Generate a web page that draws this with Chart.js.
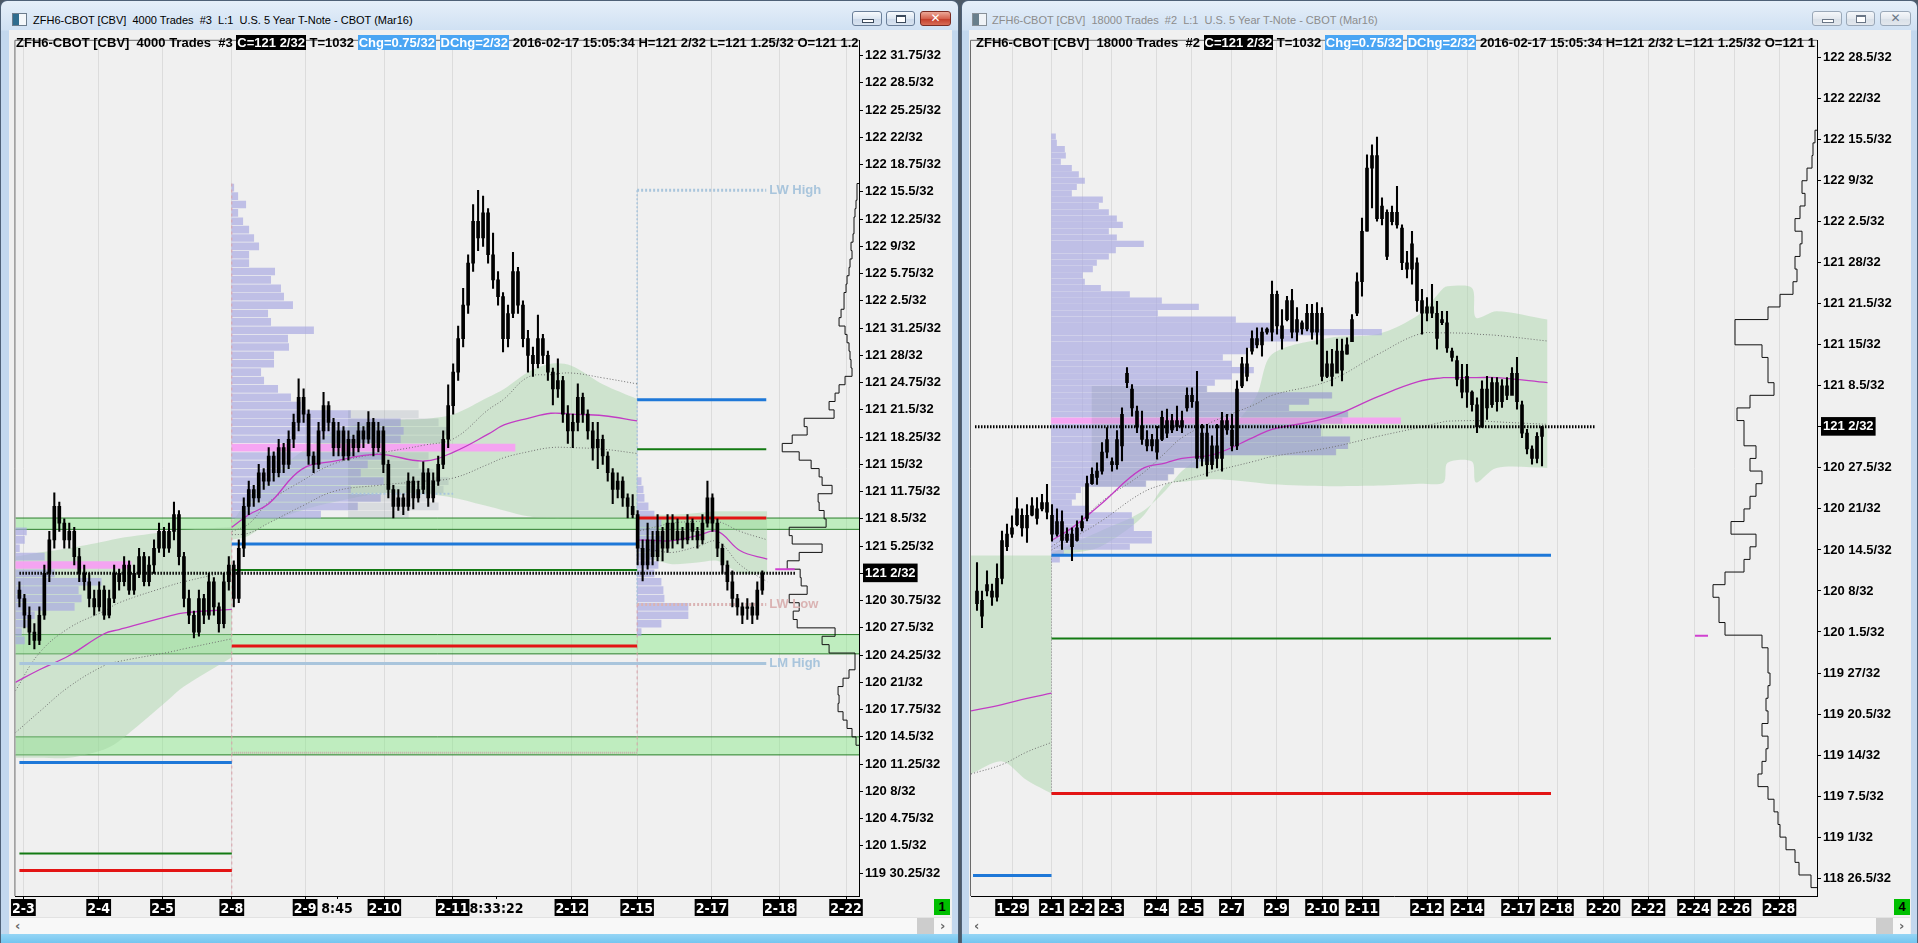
<!DOCTYPE html>
<html><head><meta charset="utf-8"><title>ZFH6-CBOT</title>
<script src="https://cdn.jsdelivr.net/npm/chart.js@4.4.1/dist/chart.umd.min.js"></script>
<style>
html,body{margin:0;padding:0}
body{width:1918px;height:943px;position:relative;overflow:hidden;background:#4d5966;font-family:"Liberation Sans",Arial,sans-serif}
.win{position:absolute;top:0;height:943px;box-sizing:border-box;border:1px solid #4f6177;border-bottom:none;border-radius:7px 7px 0 0;background:linear-gradient(#e6eff9 0,#d0e1f3 29px,#c3d8ee 30px,#c3d8ee 100%)}
#wl{left:0;width:959px}
#wr{left:961px;width:957px}
.bottom{position:absolute;left:0;right:0;bottom:0;height:9px;background:linear-gradient(#95d5f5,#74c5ef)}
.ttl{position:absolute;top:13px;font-size:11px;white-space:pre;line-height:14px}
.icon{position:absolute;top:13px;width:13px;height:11px;border:1px solid #6c7c8c;background:linear-gradient(90deg,#2f6c8e 0,#2f6c8e 45%,#f4f7fa 45%)}
.btn{position:absolute;top:11px;height:15px;border:1px solid #6a7f99;border-radius:3px;box-sizing:border-box;background:linear-gradient(#f7fafd,#dde7f2 50%,#cbd9ea 51%,#d8e3f0)}
.btn.close{background:linear-gradient(#eca897,#d6634f 50%,#c23b27 51%,#d86d57);border-color:#7b2c23}
.btn.in{border-color:#9aa8b8;background:linear-gradient(#f5f7fa,#e4e9ef 50%,#d9e0e8 51%,#e2e7ed)}
.mn{position:absolute;left:9px;top:7px;width:10px;height:2px;border:1px solid #3b4a5c;background:#fff}
.mx{position:absolute;left:9px;top:3px;width:8px;height:5px;border:1px solid #3b4a5c;border-top-width:2px;background:#fff}
.cx{position:absolute;left:0;right:0;top:-1px;text-align:center;font:bold 12px "DejaVu Sans",sans-serif;color:#fff}
.client{position:absolute;background:#f0f0f0}
.hdr{position:absolute;height:18px;overflow:hidden;white-space:pre;z-index:3}
.hdr .in{display:inline-block;font:bold 13px "Liberation Sans",Arial,sans-serif;line-height:16px;white-space:pre;color:#000}
.bk{background:#000;color:#fff;padding:0 1px}
.bl{background:#4aa5f3;color:#fff;padding:0 1px}
.sb{position:absolute;height:16px;background:#f8f8f8;border-top:1px solid #e2e2e2}
.arr{position:absolute;top:0;font:bold 13px "DejaVu Sans",sans-serif;color:#666;line-height:16px}
.thumb{position:absolute;top:0;height:16px;background:#cdcdcd}
.num{position:absolute;width:16px;height:16px;background:#00bf00;font:bold 13px "Liberation Sans",Arial;text-align:center;line-height:16px;color:#000}
canvas{position:absolute}
</style></head>
<body>
<div class="win" id="wl"><div class="bottom"></div></div>
<div class="win" id="wr"><div class="bottom"></div></div>

<div class="icon" style="left:12px"></div>
<div class="ttl" style="left:33px;color:#000">ZFH6-CBOT [CBV]  4000 Trades  #3  L:1  U.S. 5 Year T-Note - CBOT (Mar16)</div>
<div class="btn" style="left:852px;width:30px"><div class="mn"></div></div>
<div class="btn" style="left:886px;width:29px"><div class="mx"></div></div>
<div class="btn close" style="left:920px;width:31px"><div class="cx">✕</div></div>

<div class="icon" style="left:972px;filter:grayscale(0.6);opacity:0.8"></div>
<div class="ttl" style="left:992px;color:#8c8c8c">ZFH6-CBOT [CBV]  18000 Trades  #2  L:1  U.S. 5 Year T-Note - CBOT (Mar16)</div>
<div class="btn in" style="left:1812px;width:30px"><div class="mn" style="border-color:#6a7686"></div></div>
<div class="btn in" style="left:1846px;width:29px"><div class="mx" style="border-color:#6a7686"></div></div>
<div class="btn in" style="left:1880px;width:31px"><div class="cx" style="color:#6a7686">✕</div></div>

<div class="client" style="left:9px;top:30px;width:943px;height:904px"></div>
<div class="client" style="left:969px;top:30px;width:942px;height:904px"></div>

<canvas id="cl" width="942" height="885" style="left:10px;top:31px"></canvas>
<canvas id="cr" width="942" height="885" style="left:968px;top:31px"></canvas>

<div class="hdr" style="left:16px;top:33px;width:842px"><span class="in">ZFH6-CBOT [CBV]  4000 Trades  #3 <span class="bk">C=121 2/32</span> T=1032 <span class="bl">Chg=0.75/32</span> <span class="bl">DChg=2/32</span> 2016-02-17 15:05:34 H=121 2/32 L=121 1.25/32 O=121 1.25/32</span></div>
<div class="hdr" style="left:976px;top:33px;width:840px"><span class="in">ZFH6-CBOT [CBV]  18000 Trades  #2 <span class="bk">C=121 2/32</span> T=1032 <span class="bl">Chg=0.75/32</span> <span class="bl">DChg=2/32</span> 2016-02-17 15:05:34 H=121 2/32 L=121 1.25/32 O=121 1.25/32</span></div>

<div class="num" style="left:934px;top:899px">1</div>
<div class="num" style="left:1894px;top:899px">4</div>

<div class="sb" style="left:10px;top:917px;width:941px"><span class="arr" style="left:5px">‹</span><div class="thumb" style="left:907px;width:17px"></div><span class="arr" style="left:930px">›</span></div>
<div class="sb" style="left:969px;top:917px;width:941px"><span class="arr" style="left:5px">‹</span><div class="thumb" style="left:907px;width:17px"></div><span class="arr" style="left:930px">›</span></div>

<script>
// ---------- common ----------
const BASE32 = 3840;   // 120 0/32 -> every price below is in 32nds above 120
const CUR = 34;        // last trade 121 2/32

// ================= LEFT PANEL (4000 trades) =================
const L_OPEN = [32,31,29,27,26,29,34,38,42,40, 38,39,36,34,33,31,30,32,29,31, 34,33,35,32,34,36,33,35,37,39,
 37,39,41,36,31,29,27,31,29,33, 30,28,33,35,31,37,42,44,43,46, 45,48,46,49,47,50,52,55,53,48,
 47,51,54,52,49,51,48,50,49,51, 50,52,49,51,47,44,42,43,42,45, 43,44,46,43,45,47,50,54,58,62,
 66,71,76,74,77,72,69,67,62,65, 70,66,62,60,59,62,60,58,56,57, 53,51,52,55,53,51,49,50,48,46,
 44,45,43,42,41,37,35,38,36,39, 37,40,38,39,38,40,39,38,40,43, 40,37,35,33,31,30,30,30,29,32];
const L_HIGH = [33,31.5,30,28,30,35,39,43.6,42.5,40.5, 40,39.5,37,35,34,32,33,32.5,32,35, 34.5,36,35.5,35,37,36.5,36,38,40,39.5,
 40,42.5,41.5,36.5,32,29.5,32,31.5,34,33.5, 30.5,34,36,35.5,38,43,45,44.5,47,46.5, 49,48.5,50,49.5,51,53,57.2,56,53.5,48.5,
 52,55.6,54.5,52.5,52,51.5,51,50.5,52,51.5, 53.3,52.5,52,51.5,47.5,44.5,44,43.5,46,45.5, 45,47.3,46.5,46,48,51,56.5,59,63.5,68,
 72,78,79.7,79,77.5,74.6,70,67.5,66,72.3, 70.5,66.5,63,61,64.8,62.5,60.5,58.5,59.6,57.5, 54,53,56.6,55.5,53.5,52,52,50.5,48.5,46.5,
 46,45.5,43.5,43.4,41.5,38,40,39,41,39.5, 41,41,40.5,39.5,41,40.5,39.5,41,45,43.5, 40.5,37.5,35.5,34.3,31.5,30.5,31,30.5,33,34.3];
const L_LOW = [30,27.5,25.5,25,25.5,28.5,33,37,39,37, 37,35,33,32,30,29,29.5,28.5,28.7,30.5, 32,32.5,31.5,31.5,33.5,32.5,32.5,34,36.5,36,
 36.5,38,35,30,28,26.3,26.5,28,28.5,29, 27,27.5,32,30,30.5,36,41,42,42.5,44, 44.5,45,45.5,46,46.5,49,51,52,47,46,
 46.5,50,51,48,48,47.5,47.5,48,48.5,49, 49.5,48,48.5,46,43,40.6,41.5,41,41.5,41.7, 42.5,43.5,42,42.5,44.5,46.5,49,53,57,61,
 65,70,72.5,73,71,68,66,60.4,61,64.5, 65,61,58,57.5,58.5,59,57,54.1,55,52, 49.5,49,51,52,50,47.5,46.5,47,45,42.3,
 43,42,40.6,40.6,35,33.1,34.5,35,35.5,35.5, 36.5,37,37.5,37,37.5,38,37,37.5,39.5,39, 36,34,32,30,29,28,28.5,28,28.5,31.5];
const L_CLOSE = [31,29,27,26,29,34,38,42,40,38, 39,36,34,33,31,30,32,29,31,34, 33,35,32,34,36,33,35,37,39,37,
 39,41,36,31,29,27,31,29,33,30, 28,33,35,31,37,42,44,43,46,45, 48,46,49,47,50,52,55,53,48,47,
 51,54,52,49,51,48,50,49,51,50, 52,49,51,47,44,42,43,42,45,43, 44,46,43,45,47,50,54,58,62,66,
 71,76,74,77,72,69,67,62,65,70, 66,62,60,59,62,60,58,56,57,53, 51,52,55,53,51,49,50,48,46,44,
 45,43,42,41,37,35,38,36,39,37, 40,38,39,38,40,39,38,40,43,40, 37,35,33,31,30,29,30,29,32,34];

const L_DATE_POS = [0.8,15.9,28.7,42.6,57.3,63.7,73.2,86.9,95.7,110.7,123.9,138.8,152.5,165.8];
const L_DATE_LABELS = ['2-3','2-4','2-5','2-8','2-9','8:45','2-10','2-11','8:33:22','2-12','2-15','2-17','2-18','2-22'];
const L_Y_TICKS = [-1.75,1.5,4.75,8,11.25,14.5,17.75,21,24.25,27.5,30.75,34,37.25,40.5,43.75,47,50.25,53.5,56.75,60,
 63.25,66.5,69.75,73,76.25,79.5,82.75,86,89.25,92.5,95.75];

const L_SESSIONS = [42.6, 123.9];                 // 2-8 and 2-15 session starts
const L_BANDS = [[39.25,40.6],[24.4,26.7],[12.35,14.5]];
const L_BLUE  = [[0,42.6,11.45],[42.6,123.9,37.5],[123.9,149.8,54.7]];
const L_GREEN = [[0,42.6,0.6],[42.6,123.9,34.4],[123.9,149.8,48.8]];
const L_RED   = [[0,42.6,-1.45],[42.6,123.9,25.35],[123.9,149.8,40.6]];
const L_REF_NAMES  = ['LW High','LW Low','LM High'];
const L_REF_LEVELS = [79.7, 30.3, 23.25];
const L_REF_FROM   = [123.9, 123.9, 0];
const L_REF_TO = 149.8;
const L_PRIOR_HIGH = [66.6, 87, 43.5];
const L_LM_LOW = [42.6, 123.9, 12.6];
const L_CUR_SPAN = [0, 155.8];
const L_VPOC_MARK = [151.6, 155.5, 34.5];

// value-area envelopes: session 1, 2, 3
const L_E1_X  = [-0.8,4,10,17,20,30,33,42.6];
const L_E1_HI = [36,36.5,37,37.8,38.2,39,39.2,39.5];
const L_E1_LO = [12,12,12,13,14,19,20.5,24];
const L_E1_VW = [21,22.5,24.2,26.8,27.3,28.9,29.3,29.7];
const L_E1_UP = [20,24.5,27.5,29.5,30.5,32.5,33,34.3];
const L_E1_DN = [15,17.5,20.5,23,23.5,24.6,25,26.2];
const L_E2_X  = [42.6,46,50,56.6,63.2,72,81.2,87.2,94,97.2,102,106.6,110.6,117.2,123.9];
const L_E2_HI = [40,43,45.5,48.5,51,52.2,52.4,53,55,56,58,59,58.8,56.5,54.8];
const L_E2_LO = [38,38.5,40,41.5,42.5,43.5,43.5,43,42,41.5,40.8,40.6,40.6,40.6,40.6];
const L_E2_VW = [39.5,41,42.3,46.4,47.4,48.2,47.4,48.5,50.6,51.7,52.5,53.1,53,52.8,52.2];
const L_E2_UP = [39,39.9,42.5,45,47.1,48.3,49.3,50.1,53.5,54.8,57.4,57.7,57.9,57.3,56.6];
const L_E2_DN = [38.6,38.8,40,42,43.8,44.5,45,45.4,47,47.8,48.5,49,49,48.8,48.3];
const L_E3_X  = [123.9,128,131,136,140,144.6,150];
const L_E3_HI = [41,41,41,41.2,41.4,41.4,41.4];
const L_E3_LO = [36,35.5,35.1,35.3,35.5,34,34];
const L_E3_VW = [38,37.9,37.9,38.5,39,36.7,35.7];
const L_E3_UP = [39,39.6,40,40.2,40.2,39,38];
const L_E3_DN = [37,36.7,36.5,37.2,37.8,35,33];

// session volume profiles (volume per 1/32 row)
const L_PA_START = -0.8, L_PA_LOW = 26, L_PA_POC = 35;
const L_PA_VOL = [9,6,13,19,59,66,63,86,39,116,29,4,9,11];
const L_PB_START = 42.6, L_PB_LOW = 41, L_PB_POC = 49;
const L_PB_VOL = [89,126,149,119,152,129,136,152,284,169,172,169,119,69,59,46,32,29,42,42,57,56,82,39,36,61,52,49,39,43,17,17,27,22,17,11,6,14,6,2];
const L_PG_START = 66, L_PG_LOW = 41;          // developing (grey) profile overlay
const L_PG_VOL = [60,90,80,95,100,85,70,80,0,95,100,90,70];
const L_PC_START = 123.9, L_PC_LOW = 27, L_PC_POC = null;
const L_PC_VOL = [4,24,51,51,27,26,24,17,21,17,19,24,21,24,17,11,7,6,4];
// whole-window profile (right edge), 1/32 rows from 120 14/32 upward
const L_FAR_LOW = 14;
const L_FAR_VOL = [3,7,12,16,21,20,21,16,10,4,4,30,37,24,62,66,60,70,52,58,59,72,60,37,67,70,33,35,40,41,27,37,40,48,60,77,67,52,55,25,30,24,20,14,7,8,9,10,12,14,20,18,15,15,13,12,10,9,7,8,6,5,5,4,3,2,2];

// ================= RIGHT PANEL (18000 trades) =================
const R_OPEN = [6,4,8,8,7,10,15,17,18.5,20, 18,20,21,21,22,20,17,19,16,17, 16,18,19.5,25,26,27,30,28.5,28,31,
 41,40,36.5,34,32,31,32,32,35,33.5, 35,34,37,39,38,29,33,28,31,29, 35,33.5,31,40.5,44,46,48,47,49,49,
 55,50,51,54,49,50.5,49.5,52,49,52, 42,44,42.5,46,45.5,47.5,52,57,65,75, 77,67,68,66.5,68,65.5,60,59,60,54,
 52,53,52,51,50.5,46,44.5,41.5,39.5,39.5, 37.5,34,40,37.5,41,38,40.5,39,42.5,37.5, 33,30.5,29,32.5];
const R_HIGH = [12.5,8,11.2,9.1,12.3,17.5,18.6,19.9,22.8,21, 21.7,22.8,22.8,23.3,24.9,21.7,21,20.7,18,18, 19.1,19.9,26.2,27.5,28.3,31.5,33.9,29.1,33.4,37,
 43.4,40.7,37.3,36.5,33.4,32.8,34.1,36.5,36.8,36, 37.3,36.5,40.2,40.2,42.8,34.4,34.4,32.6,34.4,36.3, 36,36,41.3,45,46.5,49.2,49.7,49.7,49.7,57.1,
 55.5,52.6,54.7,55.8,52.9,50.8,53.4,53.4,53.7,52.9, 46,46.3,47.9,47.9,48.1,51.8,58.4,67.1,77.1,78.7, 79.9,70.3,68.4,69,72.1,66,61.8,65,60.8,55.8,
 54.5,56.6,53.9,52.3,52.3,46.5,45.2,43.9,43.9,39.7, 38.6,41.3,42,41.8,41.8,41.5,41.8,43.4,45,38.1, 33.6,31,33.1,34.1];
const R_LOW = [4.9,2.2,7.2,5.7,6.4,9.1,14.4,16.5,18.3,16.7, 15.7,19.9,18.6,20.7,19.4,15.9,16.7,14.6,15.7,12.8, 15.9,17.5,19.1,24.9,24.9,26.5,29.1,27,27.3,28.6,
 40.2,35.7,33.1,31.2,30.2,30.2,28.9,31.8,32.3,33.1, 33.4,33.1,36.5,37.1,27.5,27.8,26.2,27.3,27.5,27, 32.8,30.2,30.4,40.2,41.3,45.5,46.5,45.2,48.7,47.6,
 48.7,46.3,50.8,48.1,47.6,48.7,49.2,47.9,47.1,41.3, 41.8,40.5,42.8,41.3,45.5,47.6,51.6,54.7,65,68.7, 66.6,66,60.5,66,65.5,58.9,57.6,56.6,52.3,48.7,
 50.8,51.3,46.3,50.2,45.8,44.4,40.5,38.6,37.1,36.5, 33.1,33.9,35.2,37.1,36.5,37.1,38.3,39.2,36.8,32.3, 29.7,28.1,28.3,27.8];
const R_CLOSE = [8,6.5,9,7,10,16,17,18,21,18, 20,21.5,19.5,22,20.5,17,19,16,17,15, 18,19,25,26.5,27,30,32,28,32,36,
 42.5,37,34,32,31,32,30,35.5,33,35, 34,35,39,38,29,33,28,31,29,35, 33.5,31,40,44,42,48,47,49,49.5,55,
 50,48,54,49,51,49.5,52,49,52,42, 44,42,46,43,47,51,57,65,75,77, 67,69,61,68,66,60,59,63,54,52,
 53,52,48,50.5,46.5,45,41.5,39.5,42,37.5, 34,40,37,41,38,40.5,39,42.5,38,33, 30.5,29,32.5,34];

const R_DATE_POS = [7.0,14.9,21,26.9,35.9,42.8,50.9,59.9,69,77.1,90,98.1,108.2,116,125.3,134.3,143.4,151.5,160.5];
const R_DATE_LABELS = ['1-29','2-1','2-2','2-3','2-4','2-5','2-7','2-9','2-10','2-11','2-12','2-14','2-17','2-18','2-20','2-22','2-24','2-26','2-28'];
const R_Y_TICKS = [-37.5,-31,-24.5,-18,-11.5,-5,1.5,8,14.5,21,27.5,34,40.5,47,53.5,60,66.5,73,79.5,86,92.5];

const R_BLUE  = [[-0.8,14.9,-37.1],[14.9,114.8,13.65]];
const R_GREEN = [[14.9,114.8,0.47]];
const R_RED   = [[14.9,114.8,-24.1]];
const R_CUR_SPAN = [-0.4, 123.6];
const R_SESSION = [14.9, 13.6, -24.1];
const R_VPOC_MARK = [143.6, 146.2, 0.9];

const R_E0_X  = [-1.2,5,10,14.9];
const R_E0_HI = [13.6,13.6,13.6,13.6];
const R_E0_LO = [-21,-19,-22,-24.1];
const R_E0_VW = [-11,-10,-9,-8.2];
const R_E0_DN = [-21,-19.5,-17.5,-16];
const R_E1_X  = [14.9,19,24.7,32.9,37.8,41,47.6,55.7,59,70.4,80.2,88.4,93.3,94.1,99,99.8,103.9,114.1];
const R_E1_HI = [14,15.5,17.5,20.5,24,27,31,38.6,45.5,48.1,48.7,51.8,56,56.3,56,51.3,52.3,51];
const R_E1_LO = [13.6,14,15,19.6,24.9,25.3,25.7,25.2,24.9,24.6,24.7,25,25.2,28.3,28.5,25.2,27.5,27.5];
const R_E1_VW = [16,18,21.7,27.3,28.3,29,29.7,32.5,33.6,35.5,38.8,41.2,41.8,41.8,41.8,41.8,41.8,41];
const R_E1_UP = [15,17.4,22,26.5,30,32.3,35,37.6,39,41.3,45.5,48.7,48.9,48.9,48.8,48.7,48.5,47.6];
const R_E1_DN = [14.5,16.3,19,23.5,25,25.5,27,28.6,29.3,30.7,32.5,33.9,34.8,34.9,35,35,34.8,34.4];

const R_PD_START = 14.9, R_PD_LOW = 13, R_PD_POC = 35;
const R_PD_VOL = [8,12,78,100,100,82,82,80,37,20, 24,29,94,116,122,147,163,284,296,298, 269,269,349,296,237,257,280,155,163,180,
 202,180,171,196,204,245,330,218,184,106, 147,110,78,49,33,31,41,45,57,64, 92,65,57,71,65,57,47,51,20,25, 33,27,20,9,14,13,5,4];
const R_PE_START = 23, R_PE_LOW = 25;
const R_PE_VOL = [54,76,82,107,123,244,256,258,229,229,250,256,197,217,240,115];
const R_FAR_LOW = -38;   // 2/32 rows
const R_FAR_VOL = [6,18,22,31,37,39,43,49,59,55,51,49,55,49,51,49,47,49,49,55,92,98,98,104,92,73,67,61,86,73,
 67,61,55,67,61,73,73,80,67,43,49,49,55,82,82,49,37,24,20,22,17,15,22,17,12,15,10,5,4,2];

// ---------- style constants ----------
const VOL_TO_SLOT = 0.2;             // profile volume unit -> bar slots
const PROFILE_COL = 'rgba(168,168,226,0.68)';
const POC_COL = 'rgba(246,160,242,0.95)';
const GRAY_PROF = 'rgba(120,135,150,0.2)';
const NARROW = '"Liberation Sans Narrow","DejaVu Sans Condensed","Liberation Sans",sans-serif';

// ---------- dataset helpers ----------
const pts = (xs, ys) => xs.map((x, k) => ({x, y: ys[k]}));
const seq = (lo, n, step) => Array.from({length: n}, (_, k) => lo + k * step);

function hline(x0, x1, y, color, width, dash, order) {
  return {type: 'line', data: [{x: x0, y}, {x: x1, y}], borderColor: color, borderWidth: width,
          borderDash: dash || [], pointRadius: 0, fill: false, order: order == null ? 2 : order};
}
function vline(x, y0, y1, color, width, dash, order) {
  return {type: 'line', data: [{x, y: y0}, {x, y: y1}], borderColor: color, borderWidth: width,
          borderDash: dash || [], pointRadius: 0, fill: false, order: order == null ? 6 : order};
}
function ohlc(op, hi, lo, cl) {
  return [
    {type: 'bar', data: hi.map((h, i) => ({x: i, y: [lo[i], h]})), backgroundColor: '#000', borderWidth: 0,
     barThickness: 1.4, grouped: false, minBarLength: 1, order: 1},
    {type: 'bar', data: op.map((o, i) => ({x: i, y: [o, cl[i]]})), backgroundColor: '#000', borderWidth: 0,
     barThickness: 3, grouped: false, minBarLength: 1.6, order: 1}
  ];
}
function envelope(xs, hi, lo, vw, up, dn) {
  const out = [
    {type: 'line', data: pts(xs, hi), borderColor: 'rgba(0,0,0,0)', pointRadius: 0, fill: false, tension: 0.3, order: 9},
    {type: 'line', data: pts(xs, lo), borderColor: 'rgba(0,0,0,0)', pointRadius: 0, fill: '-1',
     backgroundColor: 'rgba(160,210,160,0.42)', tension: 0.3, order: 9},
    {type: 'line', data: pts(xs, vw), borderColor: '#c23cc4', borderWidth: 1.3, pointRadius: 0, fill: false, tension: 0.4, order: 3}
  ];
  [up, dn].forEach(a => { if (a) out.push({type: 'line', data: pts(xs, a), borderColor: '#6f6f6f', borderWidth: 1,
     borderDash: [1, 2], pointRadius: 0, fill: false, tension: 0.4, order: 3}); });
  return out;
}
function band(x0, x1, lo, hi) {
  return [
    {type: 'line', data: [{x: x0, y: hi}, {x: x1, y: hi}], borderColor: '#2b7f2b', borderWidth: 1, pointRadius: 0, fill: false, order: 10},
    {type: 'line', data: [{x: x0, y: lo}, {x: x1, y: lo}], borderColor: '#2b7f2b', borderWidth: 1, pointRadius: 0,
     fill: '-1', backgroundColor: 'rgba(130,232,130,0.45)', order: 10}
  ];
}
function profile(start, low, vols, poc, color, thick, order) {
  const lv = seq(low, vols.length, 1);
  return {type: 'bar', indexAxis: 'y', data: lv.map((l, k) => ({y: l, x: [start, start + vols[k] * VOL_TO_SLOT]})),
          backgroundColor: lv.map(l => l === poc ? POC_COL : color), borderWidth: 0,
          barThickness: thick, grouped: false, order: order || 8};
}
function stepProfile(low, vols, step) {
  const lv = seq(low, vols.length, step);
  const p = [{x: 0, y: lv[0] - step / 2}];
  lv.forEach((l, k) => { p.push({x: vols[k], y: l - step / 2}, {x: vols[k], y: l + step / 2}); });
  p.push({x: 0, y: lv[lv.length - 1] + step / 2});
  return {type: 'line', xAxisID: 'xv', data: p, borderColor: '#111', borderWidth: 1, pointRadius: 0, fill: false, tension: 0, order: 4};
}
function fmt32(v) {
  const t = Math.round((v + BASE32) * 100) / 100;
  const whole = Math.floor(t / 32);
  const fr = Math.round((t - whole * 32) * 100) / 100;
  return whole + ' ' + fr + '/32';
}

// ---------- plugins ----------
const framePlugin = {
  id: 'frame',
  beforeDatasetsDraw(chart) {
    const {ctx, chartArea: a} = chart;
    ctx.save(); ctx.strokeStyle = '#6a6a6a'; ctx.lineWidth = 1;
    ctx.beginPath(); ctx.moveTo(a.left - 0.5, a.bottom); ctx.lineTo(a.left - 0.5, a.top - 0.5); ctx.lineTo(a.right, a.top - 0.5); ctx.stroke();
    ctx.restore();
  }
};
const textPlugin = {
  id: 'reftexts',
  afterDatasetsDraw(chart, args, opts) {
    const {ctx, scales: {x, y}} = chart;
    (opts.items || []).forEach(t => {
      ctx.save(); ctx.font = 'bold 13px "Liberation Sans", Arial, sans-serif';
      ctx.fillStyle = t.color; ctx.textBaseline = 'middle';
      ctx.fillText(t.text, x.getPixelForValue(t.x) + 3, y.getPixelForValue(t.y));
      ctx.restore();
    });
  }
};

function makeChart(id, c) {
  const isTime = l => l.indexOf(':') >= 0;
  return new Chart(document.getElementById(id), {
    type: 'line',
    data: {datasets: c.datasets},
    plugins: [framePlugin, textPlugin],
    options: {
      responsive: false, animation: false, devicePixelRatio: 1, events: [],
      layout: {autoPadding: false, padding: {left: 3, top: 2, right: 0, bottom: 0}},
      plugins: {legend: {display: false}, tooltip: {enabled: false}, reftexts: {items: c.texts}},
      scales: {
        x: {
          type: 'linear', position: 'bottom', min: c.xMin, max: c.xMax, offset: false,
          afterBuildTicks: s => { s.ticks = c.datePos.map(v => ({value: v})); },
          afterFit: s => { s.height = 20; },
          border: {display: true, color: '#000', width: 1},
          grid: {offset: false, drawOnChartArea: true, drawTicks: true, tickLength: 3, tickColor: '#000',
                 color: ctx => (ctx.tick && isTime(c.dateLabels[ctx.index] || '')) ? 'rgba(0,0,0,0)' : '#dcdcdc'},
          ticks: {
            autoSkip: false, maxRotation: 0, minRotation: 0, padding: 2,
            callback: (v, i) => c.dateLabels[i],
            font: {family: NARROW, size: 14, weight: 'bold'},
            color: ctx => isTime(c.dateLabels[ctx.index] || '') ? '#000' : '#fff',
            showLabelBackdrop: true,
            backdropColor: ctx => isTime(c.dateLabels[ctx.index] || '') ? 'rgba(0,0,0,0)' : '#000',
            backdropPadding: {top: 2, bottom: 1, left: 1, right: 1}
          }
        },
        xv: {type: 'linear', display: false, reverse: true, min: 0, max: 846, offset: false},
        y: {
          type: 'linear', position: 'right', min: c.yMin, max: c.yMax, offset: false,
          afterBuildTicks: s => { s.ticks = c.yTicks.map(v => ({value: v})); },
          afterFit: s => { s.width = 93; },
          border: {display: true, color: '#000', width: 1},
          grid: {offset: false, drawOnChartArea: false, drawTicks: true, tickLength: 4, tickColor: '#000', color: '#000'},
          ticks: {
            padding: 2, callback: v => fmt32(v),
            font: {family: '"Liberation Sans", Arial, sans-serif', size: 13, weight: 'bold'},
            color: ctx => ctx.tick && ctx.tick.value === CUR ? '#fff' : '#000',
            showLabelBackdrop: true,
            backdropColor: ctx => ctx.tick && ctx.tick.value === CUR ? '#000' : 'rgba(0,0,0,0)',
            backdropPadding: {top: 2, bottom: 1, left: 2, right: 2}
          }
        }
      }
    }
  });
}

// ---------- left chart ----------
const L_XMIN = -0.8, L_XMAX = 168.4;
const lds = [];
L_BANDS.forEach(([lo, hi]) => lds.push(...band(L_XMIN, L_XMAX, lo, hi)));
lds.push(...envelope(L_E1_X, L_E1_HI, L_E1_LO, L_E1_VW, L_E1_UP, L_E1_DN));
lds.push(...envelope(L_E2_X, L_E2_HI, L_E2_LO, L_E2_VW, L_E2_UP, L_E2_DN));
lds.push(...envelope(L_E3_X, L_E3_HI, L_E3_LO, L_E3_VW, L_E3_UP, L_E3_DN));
lds.push(profile(L_PA_START, L_PA_LOW, L_PA_VOL, L_PA_POC, PROFILE_COL, 7));
lds.push(profile(L_PB_START, L_PB_LOW, L_PB_VOL, L_PB_POC, PROFILE_COL, 7));
lds.push(profile(L_PG_START, L_PG_LOW, L_PG_VOL, null, GRAY_PROF, 7, 7));
lds.push(profile(L_PC_START, L_PC_LOW, L_PC_VOL, L_PC_POC, PROFILE_COL, 7));
lds.push(stepProfile(L_FAR_LOW, L_FAR_VOL, 1));
lds.push(vline(L_SESSIONS[0], L_PB_LOW + L_PB_VOL.length - 0.5, -6, '#d9a0a8', 1, [3, 3]));
lds.push(vline(L_SESSIONS[1], L_REF_LEVELS[0], L_REF_LEVELS[1], '#a9c5dc', 1.5, [2, 2]));
lds.push(vline(L_SESSIONS[1], L_REF_LEVELS[1], L_BANDS[2][0], '#d9a0a8', 1, [3, 3]));
L_BLUE.forEach(s => lds.push(hline(s[0], s[1], s[2], '#1e78d8', 3)));
L_GREEN.forEach(s => lds.push(hline(s[0], s[1], s[2], '#137a13', 2)));
L_RED.forEach(s => lds.push(hline(s[0], s[1], s[2], '#e31414', 3)));
lds.push(hline(L_REF_FROM[0], L_REF_TO, L_REF_LEVELS[0], '#a9c5dc', 3, [2, 2]));
lds.push(hline(L_REF_FROM[1], L_REF_TO, L_REF_LEVELS[1], '#dab3b3', 3, [2, 2]));
lds.push(hline(L_REF_FROM[2], L_REF_TO, L_REF_LEVELS[2], '#a9c5dc', 3));
lds.push(hline(L_PRIOR_HIGH[0], L_PRIOR_HIGH[1], L_PRIOR_HIGH[2], '#a9c5dc', 2, [2, 2]));
lds.push(hline(L_LM_LOW[0], L_LM_LOW[1], L_LM_LOW[2], '#c9a9ad', 2, [1, 1]));
lds.push(hline(L_VPOC_MARK[0], L_VPOC_MARK[1], L_VPOC_MARK[2], '#d040d0', 2));
lds.push(...ohlc(L_OPEN, L_HIGH, L_LOW, L_CLOSE));
lds.push(hline(L_CUR_SPAN[0], L_CUR_SPAN[1], CUR, '#000', 3, [1.5, 1.5], 0));

makeChart('cl', {
  datasets: lds, xMin: L_XMIN, xMax: L_XMAX, yMin: -4.48, yMax: 97.52, yTicks: L_Y_TICKS,
  datePos: L_DATE_POS, dateLabels: L_DATE_LABELS,
  texts: [
    {text: L_REF_NAMES[0], x: L_REF_TO, y: L_REF_LEVELS[0], color: '#a9c5dc'},
    {text: L_REF_NAMES[1], x: L_REF_TO, y: L_REF_LEVELS[1], color: '#dab3b3'},
    {text: L_REF_NAMES[2], x: L_REF_TO, y: L_REF_LEVELS[2], color: '#a9c5dc'}
  ]
});

// ---------- right chart ----------
const rds = [];
rds.push(...envelope(R_E0_X, R_E0_HI, R_E0_LO, R_E0_VW, null, R_E0_DN));
rds.push(...envelope(R_E1_X, R_E1_HI, R_E1_LO, R_E1_VW, R_E1_UP, R_E1_DN));
rds.push(profile(R_PD_START, R_PD_LOW, R_PD_VOL, R_PD_POC, PROFILE_COL, 5.5));
rds.push(profile(R_PE_START, R_PE_LOW, R_PE_VOL, null, GRAY_PROF, 5.5, 7));
rds.push(stepProfile(R_FAR_LOW, R_FAR_VOL, 2));
rds.push(vline(R_SESSION[0], R_SESSION[1], R_SESSION[2], '#8a8a8a', 1, [1, 2]));
R_BLUE.forEach(s => rds.push(hline(s[0], s[1], s[2], '#1e78d8', 3)));
R_GREEN.forEach(s => rds.push(hline(s[0], s[1], s[2], '#137a13', 2)));
R_RED.forEach(s => rds.push(hline(s[0], s[1], s[2], '#e31414', 3)));
rds.push(hline(R_VPOC_MARK[0], R_VPOC_MARK[1], R_VPOC_MARK[2], '#d040d0', 2));
rds.push(...ohlc(R_OPEN, R_HIGH, R_LOW, R_CLOSE));
rds.push(hline(R_CUR_SPAN[0], R_CUR_SPAN[1], CUR, '#000', 3, [1.5, 1.5], 0));

makeChart('cr', {
  datasets: rds, xMin: -1.2, xMax: 168, yMin: -40.33, yMax: 95.17, yTicks: R_Y_TICKS,
  datePos: R_DATE_POS, dateLabels: R_DATE_LABELS, texts: []
});
</script>
</body></html>
